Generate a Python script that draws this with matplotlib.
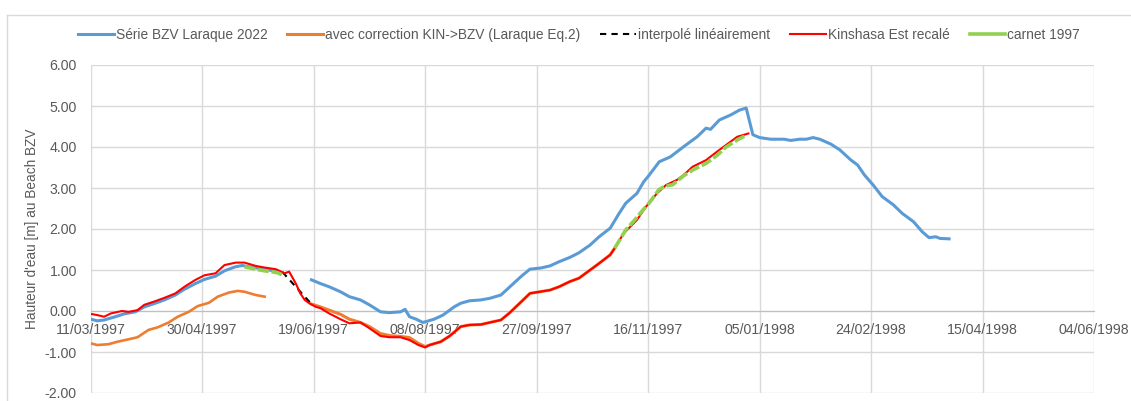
import numpy as np
import matplotlib
matplotlib.use("Agg")
import matplotlib.pyplot as plt
import matplotlib.dates as mdates
from matplotlib.lines import Line2D
from matplotlib.ticker import FuncFormatter, MultipleLocator

# days counted from 11/03/1997, water height in m
start = np.datetime64('1997-03-11')

bzv_days_1 = [0, 3, 6, 11, 15, 20, 24, 29, 33, 38, 42, 47, 51, 56, 60, 65, 68, 72, 78, 84]
bzv_vals_1 = [-0.20, -0.24, -0.22, -0.14, -0.07, -0.02, 0.10, 0.19, 0.27, 0.39, 0.53, 0.67,
              0.77, 0.85, 0.98, 1.08, 1.11, 1.07, 1.02, 0.96]
bzv_days_2 = [99, 103, 107, 112, 116, 121, 125, 130, 134, 139, 141, 143, 146, 149, 154, 158,
              163, 166, 170, 175, 179, 184, 188, 193, 197, 202, 206, 210, 215, 219, 224, 228,
              233, 237, 240, 245, 248, 250, 255, 260, 266, 272, 276, 278, 282, 287, 291, 294,
              297, 300, 305, 311, 314, 318, 321, 324, 327, 332, 336, 341, 344, 347, 351, 355,
              360, 364, 369, 373, 376, 379, 381, 385]
bzv_vals_2 = [0.76, 0.67, 0.59, 0.47, 0.35, 0.27, 0.15, -0.02, -0.04, -0.02, 0.04, -0.14,
              -0.20, -0.28, -0.20, -0.10, 0.10, 0.19, 0.25, 0.27, 0.31, 0.39, 0.59, 0.84,
              1.02, 1.05, 1.10, 1.20, 1.31, 1.42, 1.61, 1.81, 2.02, 2.38, 2.63, 2.87, 3.15,
              3.28, 3.64, 3.76, 4.01, 4.25, 4.46, 4.43, 4.66, 4.78, 4.90, 4.95, 4.30, 4.23,
              4.19, 4.19, 4.16, 4.19, 4.19, 4.23, 4.19, 4.07, 3.93, 3.68, 3.56, 3.32, 3.07,
              2.79, 2.59, 2.38, 2.18, 1.93, 1.79, 1.81, 1.77, 1.76]

kin_days_1 = [0, 3, 8, 12, 17, 21, 26, 30, 35, 39, 44, 48, 53, 57, 62, 66, 69, 74, 78]
kin_vals_1 = [-0.79, -0.83, -0.81, -0.75, -0.69, -0.64, -0.46, -0.40, -0.28, -0.14, -0.02,
              0.12, 0.20, 0.35, 0.45, 0.49, 0.47, 0.39, 0.35]
kin_days_2 = [99, 103, 107, 112, 116, 121, 125, 130, 134, 139, 143, 147, 150, 152, 157, 161,
              166, 170, 175, 179, 184, 188, 193, 197, 206, 210, 215, 219, 224, 228, 233, 235]
kin_vals_2 = [0.17, 0.10, 0.02, -0.08, -0.20, -0.28, -0.38, -0.55, -0.60, -0.62, -0.65,
              -0.79, -0.87, -0.83, -0.75, -0.61, -0.38, -0.34, -0.33, -0.28, -0.22, -0.04,
              0.22, 0.43, 0.51, 0.59, 0.72, 0.80, 1.00, 1.16, 1.37, 1.53]

interp_days = [86, 99]
interp_vals = [0.95, 0.17]

kinest_days = [0, 3, 6, 9, 14, 17, 21, 24, 29, 33, 38, 42, 47, 51, 56, 60, 65, 69, 74, 78,
               83, 87, 89, 92, 94, 96, 98, 101, 103, 107, 112, 116, 121, 125, 130, 134, 139,
               143, 147, 150, 152, 157, 161, 166, 170, 175, 179, 184, 188, 193, 197, 206, 210,
               215, 219, 224, 228, 233, 235, 239, 245, 249, 254, 258, 263, 266, 270, 276, 281,
               285, 290, 295]
kinest_vals = [-0.07, -0.10, -0.14, -0.06, 0.00, -0.02, 0.02, 0.15, 0.24, 0.32, 0.43, 0.59,
               0.76, 0.87, 0.92, 1.12, 1.18, 1.18, 1.10, 1.06, 1.02, 0.92, 0.96, 0.67, 0.43,
               0.27, 0.19, 0.10, 0.07, -0.06, -0.20, -0.30, -0.28, -0.42, -0.61, -0.64, -0.64,
               -0.71, -0.83, -0.89, -0.83, -0.75, -0.61, -0.38, -0.34, -0.33, -0.28, -0.22,
               -0.04, 0.22, 0.43, 0.51, 0.59, 0.72, 0.80, 1.00, 1.16, 1.37, 1.53, 1.89, 2.22,
               2.54, 2.87, 3.07, 3.20, 3.32, 3.52, 3.68, 3.89, 4.05, 4.25, 4.33]

carnet_days_1 = [69, 74, 78, 81, 84, 87]
carnet_vals_1 = [1.08, 1.02, 0.98, 0.96, 0.93, 0.85]
carnet_days_2 = [235, 240, 244, 247, 251, 255, 258, 261, 266, 270, 276, 281, 285, 290, 294]
carnet_vals_2 = [1.53, 1.98, 2.22, 2.42, 2.67, 2.97, 3.05, 3.08, 3.30, 3.44, 3.60, 3.80,
                 4.00, 4.17, 4.29]

labels = ["Série BZV Laraque 2022", "avec correction KIN->BZV (Laraque Eq.2)",
          "interpolé linéairement", "Kinshasa Est recalé", "carnet 1997"]


def to_dates(days):
    return start + np.array(days, dtype='timedelta64[D]')


plt.rcParams['font.family'] = ['Liberation Sans', 'DejaVu Sans']
txt = '#595959'
grid_c = '#d9d9d9'

fig = plt.figure(figsize=(11.31, 4.01), dpi=100)
ax = fig.add_axes([90.7 / 1131, 8 / 401, 1003.3 / 1131, 328 / 401])

blue = '#5B9BD5'
orange = '#ED7D31'
red = '#FF0000'
green = '#92D050'

ax.plot(to_dates(bzv_days_1), bzv_vals_1, color=blue, lw=2.2, zorder=3)
ax.plot(to_dates(bzv_days_2), bzv_vals_2, color=blue, lw=2.2, zorder=3)
ax.plot(to_dates(kin_days_1), kin_vals_1, color=orange, lw=1.9, zorder=4)
ax.plot(to_dates(kin_days_2), kin_vals_2, color=orange, lw=2.2, zorder=4)
ax.plot(to_dates(interp_days), interp_vals, color='black', lw=1.5, ls=(0, (3, 2.5)), zorder=5)
ax.plot(to_dates(kinest_days), kinest_vals, color=red, lw=1.5, zorder=6)
ax.plot(to_dates(carnet_days_1), carnet_vals_1, color=green, lw=2.6, ls=(0, (3, 0.8)), zorder=7)
ax.plot(to_dates(carnet_days_2), carnet_vals_2, color=green, lw=2.6, ls=(0, (3, 0.8)), zorder=7)

ax.set_ylim(-2, 6)
ax.set_xlim(start, start + np.timedelta64(450, 'D'))
ax.yaxis.set_major_locator(MultipleLocator(1))
ax.yaxis.set_major_formatter(FuncFormatter(lambda v, p: f"{v:.2f}"))
ax.set_xticks(to_dates([50 * k for k in range(10)]))
ax.xaxis.set_major_formatter(mdates.DateFormatter('%d/%m/%Y'))

ax.grid(True, color=grid_c, lw=1.0, zorder=0)
ax.set_axisbelow(True)
for s in ['top', 'right', 'left']:
    ax.spines[s].set_visible(False)
ax.spines['bottom'].set_position(('data', 0))
ax.spines['bottom'].set_color('#bfbfbf')
ax.spines['bottom'].set_zorder(1)
ax.tick_params(axis='both', length=0, labelcolor=txt, labelsize=10.2)
ax.tick_params(axis='y', pad=10)
ax.tick_params(axis='x', pad=9)

ax.set_ylabel("Hauteur d'eau [m] au Beach BZV", color=txt, fontsize=9.8)
ax.yaxis.set_label_coords(-(90.7 - 39) / 1003.3, 0.5)

handles = [Line2D([], [], color=blue, lw=2.2),
           Line2D([], [], color=orange, lw=2.2),
           Line2D([], [], color='black', lw=1.5, ls=(0, (3, 2.5))),
           Line2D([], [], color=red, lw=1.5),
           Line2D([], [], color=green, lw=2.6)]
fig.legend(handles, labels, loc='center', bbox_to_anchor=(579 / 1131, 1 - 35 / 401), ncol=5,
           frameon=False, fontsize=9.9, labelcolor=txt, handlelength=2.6, handletextpad=0.15,
           columnspacing=1.45)

# chart border
fig.add_artist(Line2D([7 / 1131, 1.0], [1 - 15 / 401, 1 - 15 / 401], color=grid_c, lw=1.0))
fig.add_artist(Line2D([7 / 1131, 7 / 1131], [0.0, 1 - 15 / 401], color=grid_c, lw=1.0))

fig.savefig('out.png', dpi=100)
